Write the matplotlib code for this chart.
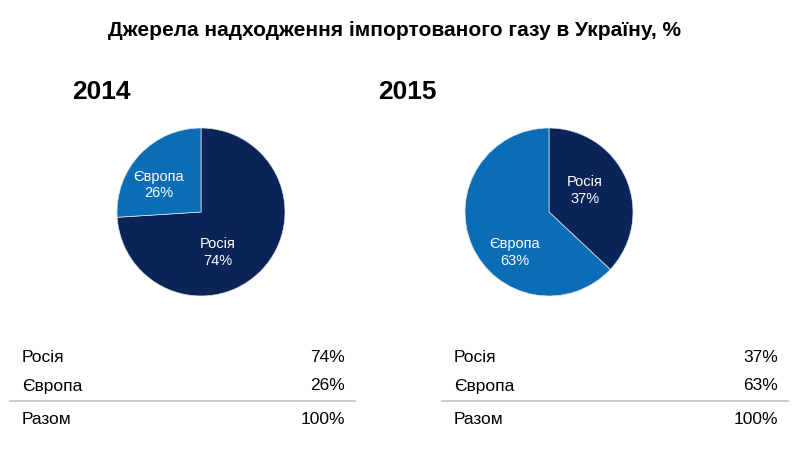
import matplotlib
matplotlib.use("Agg")
import matplotlib.pyplot as plt
from matplotlib.lines import Line2D

# дані
years = ["2014", "2015"]
sources = ["Росія", "Європа"]
shares = {"2014": [74, 26], "2015": [37, 63]}
total_label = "Разом"
title = "Джерела надходження імпортованого газу в Україну, %"

colors = ["#0b2457", "#0b6db5"]
plt.rcParams["font.family"] = ["Liberation Sans", "DejaVu Sans"]

W, H = 794, 450
fig = plt.figure(figsize=(W / 100, H / 100), dpi=100)

fig.text(394 / W, 1 - 31 / H, title, ha="center", va="center",
         fontsize=15, fontweight="bold")

# розміщення (пікселі)
pie_cx = [201, 549]
pie_cy = 212
pie_r = 84
year_x = [72, 378]
# положення підписів всередині кола (в одиницях радіуса)
label_pos = {"2014": [(0.2, -0.48), (-0.5, 0.32)],
             "2015": [(0.43, 0.26), (-0.41, -0.48)]}
table_left = [10, 442]
table_right = [355, 788]

for k, yr in enumerate(years):
    fig.text(year_x[k] / W, 1 - 92 / H, yr, ha="left", va="center",
             fontsize=19, fontweight="bold")

    ax = fig.add_axes([(pie_cx[k] - pie_r) / W, (H - pie_cy - pie_r) / H,
                       2 * pie_r / W, 2 * pie_r / H])
    ax.pie(shares[yr], colors=colors, startangle=90, counterclock=False,
           wedgeprops=dict(linewidth=0.5, edgecolor="#dfe6ee"))
    ax.set_xlim(-1, 1)
    ax.set_ylim(-1, 1)
    ax.set_aspect("equal")
    ax.axis("off")
    for (lx, ly), name, v in zip(label_pos[yr], sources, shares[yr]):
        ax.text(lx, ly, f"{name}\n{v}%", ha="center", va="center",
                color="white", fontsize=10.5, linespacing=1.25)

    # таблиця
    rows = [(sources[0], shares[yr][0]), (sources[1], shares[yr][1]),
            (total_label, sum(shares[yr]))]
    row_y = [357, 386, 419]
    for (name, v), ry in zip(rows, row_y):
        fig.text((table_left[k] + 12) / W, 1 - ry / H, name, ha="left",
                 va="center", fontsize=12.5)
        fig.text((table_right[k] - 10) / W, 1 - ry / H, f"{v}%", ha="right",
                 va="center", fontsize=12.5)
    fig.add_artist(Line2D([table_left[k] / W, table_right[k] / W],
                          [1 - 401 / H, 1 - 401 / H], color="#c4c4c4",
                          linewidth=1.2))

fig.savefig("out.png", dpi=100)
